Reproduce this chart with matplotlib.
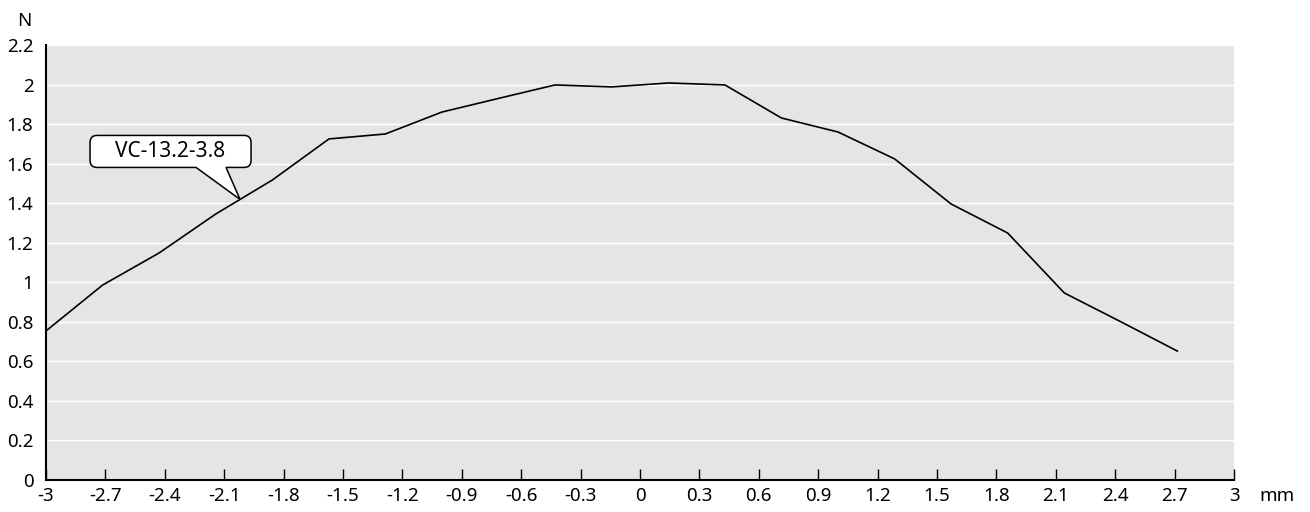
import matplotlib.pyplot as plt
import matplotlib.transforms as mtransforms
from matplotlib.path import Path
from matplotlib.patches import PathPatch
import numpy as np

plt.rcParams['font.family'] = ['Noto Sans', 'DejaVu Sans']

# displacement (mm) and force (N)
disp = [-3.0, -2.714, -2.429, -2.143, -1.857, -1.571, -1.286, -1.0, -0.714, -0.429, -0.143,
        0.143, 0.429, 0.714, 1.0, 1.286, 1.571, 1.857, 2.143, 2.429, 2.714]
force = [0.754, 0.986, 1.148, 1.345, 1.517, 1.725, 1.75, 1.861, 1.93, 1.998, 1.988,
         2.008, 1.998, 1.831, 1.76, 1.624, 1.396, 1.249, 0.946, 0.80, 0.652]
series_name = 'VC-13.2-3.8'
label_at = -2.02

xticks = np.round(np.arange(-3, 3.01, 0.3), 1) + 0.0
yticks = np.round(np.arange(0, 2.21, 0.2), 1)
fs = 13.5

fig = plt.figure(figsize=(13.1, 5.12), dpi=100)
ax = fig.add_axes([46 / 1310, 32 / 512, 1188 / 1310, 435 / 512])
ax.set_facecolor('#e5e5e5')
ax.set_xlim(-3, 3)
ax.set_ylim(0, 2.2)

for y in yticks[1:]:
    ax.axhline(y, color='white', lw=1, zorder=1)

ax.plot(disp, force, color='black', lw=1.2, zorder=3)

ax.set_xticks(xticks)
ax.set_xticklabels(['0' if abs(v) < 1e-9 else f'{v:g}' for v in xticks])
ax.set_yticks(yticks)
ax.set_yticklabels([f'{v:g}' for v in yticks])
ax.tick_params(axis='x', direction='in', length=8, width=1, labelsize=fs, pad=5)
ax.tick_params(axis='y', length=0, labelsize=fs, pad=9)
for s in ['top', 'right']:
    ax.spines[s].set_visible(False)
for s in ['left', 'bottom']:
    ax.spines[s].set_linewidth(1.5)

ax.text(-0.012, 1.035, 'N', transform=ax.transAxes, ha='right', va='bottom', fontsize=fs)
ax.text(1.036, -0.0365, 'mm', transform=ax.transAxes, ha='center', va='center', fontsize=fs)

# callout bubble anchored at a point on the line
ly = np.interp(label_at, disp, force)
trans = (mtransforms.Affine2D().scale(1 / 100) + fig.dpi_scale_trans
         + mtransforms.ScaledTranslation(label_at, ly, ax.transData))
L, R, B, T, r = -150, 11, 32, 64, 7
verts = [(-14, B), (R - r, B), (R, B), (R, B + r), (R, T - r), (R, T), (R - r, T),
         (L + r, T), (L, T), (L, T - r), (L, B + r), (L, B), (L + r, B),
         (-44, B), (0, 0), (-14, B)]
codes = [Path.MOVETO, Path.LINETO, Path.CURVE3, Path.CURVE3, Path.LINETO, Path.CURVE3, Path.CURVE3,
         Path.LINETO, Path.CURVE3, Path.CURVE3, Path.LINETO, Path.CURVE3, Path.CURVE3,
         Path.LINETO, Path.LINETO, Path.CLOSEPOLY]
bubble = PathPatch(Path(verts, codes), facecolor='white', edgecolor='black', lw=1.1,
                   transform=trans, zorder=5, clip_on=False)
ax.add_patch(bubble)
ax.text((L + R) / 2, (B + T) / 2, series_name, transform=trans, ha='center', va='center',
        fontsize=15, zorder=6)

fig.savefig('out.png', dpi=100)
